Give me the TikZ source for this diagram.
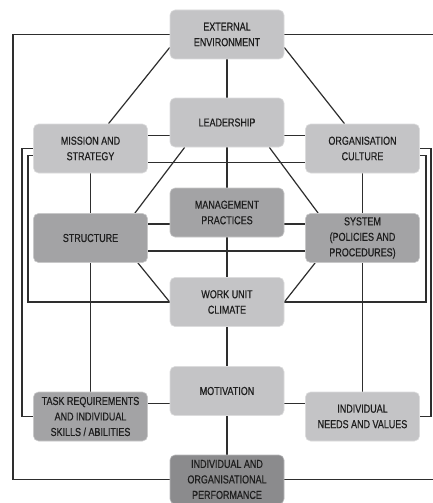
\documentclass[tikz,border=0pt]{standalone}
\usepackage{fontspec}
\setmainfont[FakeStretch=0.78,FakeBold=0.5]{Liberation Sans}
\usetikzlibrary{calc,backgrounds}
\definecolor{boxlight}{HTML}{C4C4C6}
\definecolor{boxmid}{HTML}{A3A3A5}
\definecolor{boxdark}{HTML}{8B8B8D}
\definecolor{linegrey}{HTML}{2E2E2E}
\definecolor{txtgrey}{HTML}{1E1E1E}
\tikzset{
  bmodel/.style={rounded corners=5pt, minimum width=114pt, minimum height=49pt,
    inner sep=0pt, align=center, text=txtgrey, line width=0.6pt,
    font=\fontsize{11.5}{15.5}\selectfont},
  lightbox/.style={bmodel, fill=boxlight, draw=boxlight!60!white},
  midbox/.style={bmodel, fill=boxmid, draw=boxmid!60!white},
  darkbox/.style={bmodel, fill=boxdark, draw=boxdark!60!white},
  link/.style={draw=linegrey, line width=1.2pt}
}
\begin{document}
\begin{tikzpicture}[x=1pt,y=-1pt]
\useasboundingbox (0,0) rectangle (433,503);
\clip (0,0) rectangle (433,503);
\node[lightbox] (ext)  at (227,34.5)   {EXTERNAL\\ENVIRONMENT};
\node[lightbox] (lead) at (227,122.5)  {LEADERSHIP};
\node[lightbox] (mis)  at (90.5,148.5) {MISSION AND\\STRATEGY};
\node[lightbox] (cul)  at (362.5,148.5){ORGANISATION\\CULTURE};
\node[midbox]   (mgmt) at (227,212.5)  {MANAGEMENT\\PRACTICES};
\node[midbox]   (str)  at (90.5,238)   {STRUCTURE};
\node[midbox]   (sys)  at (362.5,238)  {SYSTEM\\(POLICIES AND\\PROCEDURES)};
\node[lightbox] (wuc)  at (227,302)    {WORK UNIT\\CLIMATE};
\node[lightbox] (mot)  at (227,391)    {MOTIVATION};
\node[midbox]   (task) at (90.5,416.5) {TASK REQUIREMENTS\\AND INDIVIDUAL\\SKILLS / ABILITIES};
\node[lightbox] (need) at (362.5,416.5){INDIVIDUAL\\NEEDS AND VALUES};
\node[darkbox]  (perf) at (227,479.5)  {INDIVIDUAL AND\\ORGANISATIONAL\\PERFORMANCE};
\begin{scope}[on background layer]
\fill[white] (0,0) rectangle (433,503);
% outer frame
\draw[link] (ext.west) -- (13,34.5) |- (perf.west);
\draw[link] (ext.east) -- (437,34.5) |- (perf.east);
% left loops
\draw[link] (mis.west) -- (22,148.5) |- (task.west);
\draw[link] ($(mis.west)+(0,7)$) -- (28,155.5) |- (wuc.west);
% right loops
\draw[link] (cul.east) -- (431,148.5) |- (need.east);
\draw[link] ($(cul.east)+(0,7)$) -- (426,155.5) |- (wuc.east);
% central spine
\draw[link] (ext.south) -- (lead.north);
\draw[link] (lead.south) -- (mgmt.north);
\draw[link] (mgmt.south) -- (wuc.north);
\draw[link] (wuc.south) -- (mot.north);
\draw[link] (mot.south) -- (perf.north);
% side verticals
\draw[link] (mis.south) -- (str.north);
\draw[link] (str.south) -- (task.north);
\draw[link] (cul.south) -- (sys.north);
\draw[link] (sys.south) -- (need.north);
% diagonals
\draw[link] ([yshift=-13pt]ext.west) -- ([xshift=18pt]mis.north);
\draw[link] ([yshift=-13pt]ext.east) -- ([xshift=-18pt]cul.north);
\draw[link] ([xshift=15pt]lead.south west) -- ([xshift=-13pt]str.north east);
\draw[link] ([xshift=-15pt]lead.south east) -- ([xshift=13pt]sys.north west);
\draw[link] ([xshift=-10pt]str.south east) -- (wuc.west);
\draw[link] ([xshift=10pt]sys.south west) -- (wuc.east);
% horizontals
\draw[link] ([yshift=13pt]mis.east) -- ([yshift=13pt]mis.east -| lead.west);
\draw[link] ([yshift=13pt]cul.west) -- ([yshift=13pt]cul.west -| lead.east);
\draw[link] ([yshift=-14pt]mis.east) -- ([yshift=-14pt]cul.west);
\draw[link] ([yshift=14pt]str.east) -- ([yshift=14pt]str.east -| mgmt.west);
\draw[link] ([yshift=14pt]sys.west) -- ([yshift=14pt]sys.west -| mgmt.east);
\draw[link] ([yshift=-13pt]str.east) -- ([yshift=-13pt]sys.west);
\draw[link] ([yshift=13pt]task.east) -- ([yshift=13pt]task.east -| mot.west);
\draw[link] ([yshift=13pt]need.west) -- ([yshift=13pt]need.west -| mot.east);
\end{scope}
\end{tikzpicture}
\end{document}
